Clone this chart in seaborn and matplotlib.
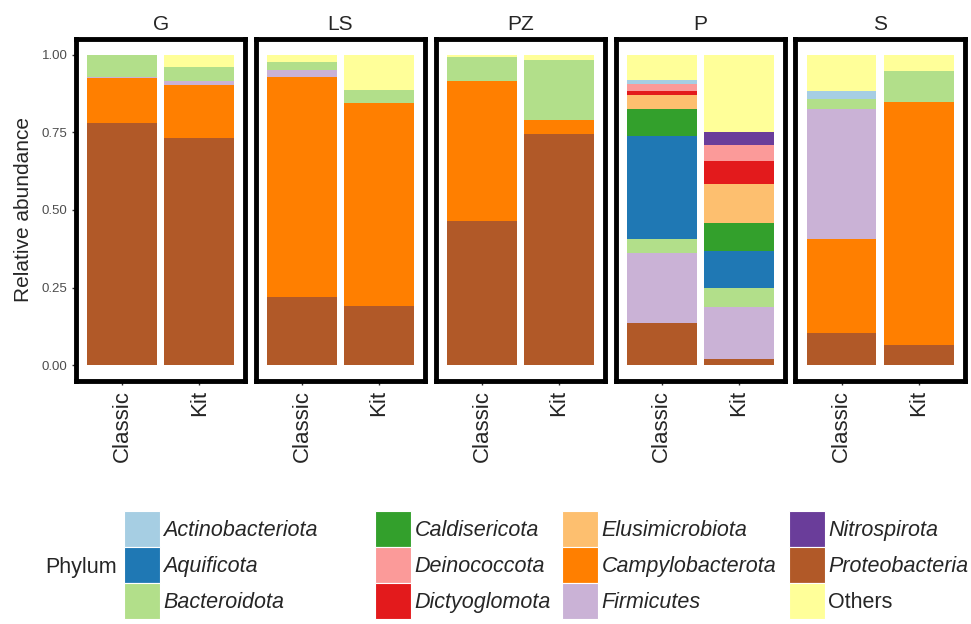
import pandas as pd
import seaborn as sns
import matplotlib.pyplot as plt
from matplotlib.patches import Patch

# sites (facets) and extraction methods
sites = ["G", "LS", "PZ", "P", "S"]
methods = ["Classic", "Kit"]

# relative abundance per phylum, order: G-Classic, G-Kit, LS-Classic, LS-Kit, PZ-Classic, PZ-Kit,
# P-Classic, P-Kit, S-Classic, S-Kit
proteobacteria = [0.780, 0.733, 0.220, 0.192, 0.465, 0.744, 0.137, 0.019, 0.105, 0.066]
campylobacterota = [0.145, 0.170, 0.710, 0.654, 0.451, 0.045, 0.0, 0.0, 0.300, 0.781]
firmicutes = [0.005, 0.014, 0.022, 0.0, 0.0, 0.0, 0.224, 0.167, 0.420, 0.0]
bacteroidota = [0.068, 0.045, 0.026, 0.041, 0.076, 0.195, 0.045, 0.061, 0.032, 0.102]
aquificota = [0.0, 0.0, 0.0, 0.0, 0.0, 0.0, 0.333, 0.122, 0.0, 0.0]
caldisericota = [0.0, 0.0, 0.0, 0.0, 0.0, 0.0, 0.086, 0.088, 0.0, 0.0]
elusimicrobiota = [0.0, 0.0, 0.0, 0.0, 0.0, 0.0, 0.045, 0.126, 0.0, 0.0]
dictyoglomota = [0.0, 0.0, 0.0, 0.0, 0.0, 0.0, 0.015, 0.075, 0.0, 0.0]
deinococcota = [0.0, 0.0, 0.0, 0.0, 0.0, 0.0, 0.022, 0.052, 0.0, 0.0]
nitrospirota = [0.0, 0.0, 0.0, 0.0, 0.0, 0.0, 0.0, 0.040, 0.0, 0.0]
actinobacteriota = [0.0, 0.0, 0.0, 0.0, 0.0, 0.0, 0.011, 0.0, 0.028, 0.0]
others = [0.002, 0.038, 0.022, 0.113, 0.008, 0.016, 0.083, 0.251, 0.115, 0.051]

# stacking order, bottom to top
stack_order = ["Proteobacteria", "Campylobacterota", "Firmicutes", "Bacteroidota", "Aquificota",
               "Caldisericota", "Elusimicrobiota", "Dictyoglomota", "Deinococcota",
               "Nitrospirota", "Actinobacteriota", "Others"]
valores = [proteobacteria, campylobacterota, firmicutes, bacteroidota, aquificota, caldisericota,
           elusimicrobiota, dictyoglomota, deinococcota, nitrospirota, actinobacteriota, others]

# legend columns (as in the original)
legend_cols = [["Actinobacteriota", "Aquificota", "Bacteroidota"],
               ["Caldisericota", "Deinococcota", "Dictyoglomota"],
               ["Elusimicrobiota", "Campylobacterota", "Firmicutes"],
               ["Nitrospirota", "Proteobacteria", "Others"]]
paired = sns.color_palette("Paired", 12)
cores = {
    "Actinobacteriota": paired[0], "Aquificota": paired[1], "Bacteroidota": paired[2],
    "Caldisericota": paired[3], "Deinococcota": paired[4], "Dictyoglomota": paired[5],
    "Elusimicrobiota": paired[6], "Campylobacterota": paired[7], "Firmicutes": paired[8],
    "Nitrospirota": paired[9], "Others": paired[10], "Proteobacteria": paired[11],
}

linhas = []
for phylum, vals in zip(stack_order, valores):
    for i, v in enumerate(vals):
        linhas.append({"Site": sites[i // 2], "Method": methods[i % 2], "Phylum": phylum, "Abundance": v})
df = pd.DataFrame(linhas)

sns.set_style("white")
plt.rcParams["font.family"] = ["Liberation Sans", "DejaVu Sans"]

fig, axes = plt.subplots(1, 5, figsize=(9.71, 6.24), dpi=100, sharey=True)
fig.subplots_adjust(left=0.078, right=0.994, bottom=0.390, top=0.937, wspace=0.06)

for ax, site in zip(axes, sites):
    sub = df[df["Site"] == site].copy()
    sub["Method"] = pd.Categorical(sub["Method"], categories=methods)
    # histplot stacks the first hue level on top, so pass the order top -> bottom
    sns.histplot(data=sub, x="Method", weights="Abundance", hue="Phylum", hue_order=stack_order[::-1],
                 palette=cores, multiple="stack", discrete=True, shrink=0.9, alpha=1,
                 linewidth=0, legend=False, ax=ax)
    ax.set_xlim(-0.6, 1.6)
    ax.set_ylim(-0.05, 1.05)
    ax.set_title(site, fontsize=15, pad=7)
    ax.set_xlabel("")
    ax.set_ylabel("")
    ax.set_xticks([0, 1])
    ax.set_xticklabels(methods, rotation=90, fontsize=16)
    ax.tick_params(axis="x", length=3, width=1, color="#333333", bottom=True, pad=4)
    for s in ax.spines.values():
        s.set_linewidth(3.5)
        s.set_color("black")

axes[0].set_yticks([0, 0.25, 0.5, 0.75, 1.0])
axes[0].set_yticklabels(["0.00", "0.25", "0.50", "0.75", "1.00"], fontsize=9.5, color="#4d4d4d")
axes[0].tick_params(axis="y", length=3, width=1, color="#333333", left=True, pad=3)
axes[0].set_ylabel("Relative abundance", fontsize=15, labelpad=6)
for ax in axes[1:]:
    ax.tick_params(axis="y", left=False)

# legenda, one column at a time
col_x = [124, 375, 562, 789]
for x0, col in zip(col_x, legend_cols):
    handles = [Patch(facecolor=cores[p], edgecolor="white", linewidth=0.8) for p in col]
    leg = fig.legend(handles, col, loc="upper left", bbox_to_anchor=(x0 / 971, 1 - 511 / 624),
                     ncol=1, frameon=False, fontsize=15.5, handlelength=1.68, handleheight=2.2,
                     handletextpad=0.15, labelspacing=0.0, borderpad=0, borderaxespad=0)
    for t in leg.get_texts():
        if t.get_text() != "Others":
            t.set_fontstyle("italic")
fig.text(45 / 971, 1 - 568 / 624, "Phylum", fontsize=15.5, va="center", ha="left")

plt.savefig("out.png", dpi=100)
